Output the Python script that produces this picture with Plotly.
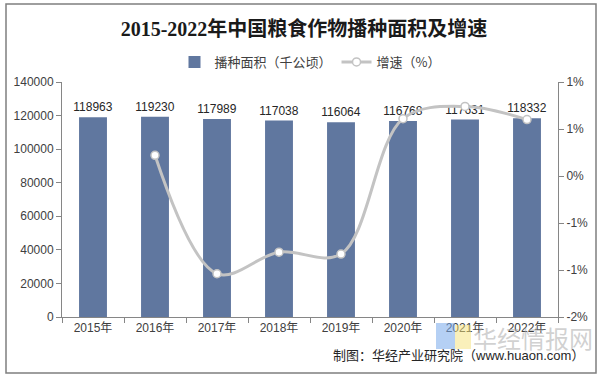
import plotly.graph_objects as go

years = ["2015年", "2016年", "2017年", "2018年", "2019年", "2020年", "2021年", "2022年"]
area = [118963, 119230, 117989, 117038, 116064, 116768, 117631, 118332]
growth_years = ["2016年", "2017年", "2018年", "2019年", "2020年", "2021年", "2022年"]
growth = [0.22, -1.04, -0.81, -0.83, 0.61, 0.74, 0.60]
y2_tickvals = [-1.5, -1.0, -0.5, 0.0, 0.5, 1.0]
y2_ticktext = ["-2%", "-1%", "-1%", "0%", "1%", "1%"]

font_main = "Liberation Sans, Arial, Noto Sans CJK SC"

fig = go.Figure()
fig.add_trace(go.Bar(
    x=years, y=area, name="播种面积（千公顷）",
    marker=dict(color="#60779f", line=dict(width=0)),
    width=0.45,
    text=[str(v) for v in area], textposition="outside", constraintext="none",
    textfont=dict(size=12, color="#262626", family=font_main),
    cliponaxis=False,
))
fig.add_trace(go.Scatter(
    x=growth_years, y=growth, name="增速（%）", yaxis="y2",
    mode="lines+markers",
    line=dict(color="#c3c3c3", width=3, shape="spline", smoothing=1),
    marker=dict(size=8, color="white", line=dict(color="#c3c3c3", width=1.5)),
    cliponaxis=False,
))

fig.update_layout(
    width=608, height=383,
    margin=dict(l=62, r=50, t=82, b=66, autoexpand=False),
    paper_bgcolor="white", plot_bgcolor="white",
    font=dict(family=font_main, size=12, color="#404040"),
    title=dict(
        text="<b>2015-2022年中国粮食作物播种面积及增速</b>",
        x=0.5, xanchor="center", y=1 - 29 / 383, yanchor="middle",
        font=dict(family="Liberation Serif, Noto Sans CJK SC", size=20, color="#1a1a1a"),
    ),
    legend=dict(
        orientation="h", x=0.5, xanchor="center",
        yref="container", y=1 - 62 / 383, yanchor="middle",
        font=dict(size=13, color="#404040", family="Noto Sans CJK SC"),
        itemwidth=30, traceorder="normal", bgcolor="rgba(0,0,0,0)",
    ),
    showlegend=True,
    xaxis=dict(
        type="category", showline=True, linecolor="#868686", linewidth=1,
        ticks="outside", tickson="boundaries", ticklen=5, tickcolor="#868686",
        tickfont=dict(size=12, color="#404040", family="Liberation Sans, Noto Sans CJK SC"),
        showgrid=False, automargin=False,
    ),
    yaxis=dict(
        range=[0, 140000], dtick=20000, tickformat="d", showline=True, linecolor="#868686",
        ticks="outside", ticklen=5, tickcolor="#868686", showgrid=False,
        tickfont=dict(size=12, color="#404040"), zeroline=False, automargin=False,
    ),
    yaxis2=dict(
        range=[-1.5, 1.0], overlaying="y", side="right",
        tickvals=y2_tickvals, ticktext=y2_ticktext,
        showline=True, linecolor="#868686", ticks="outside", ticklen=5,
        tickcolor="#868686", showgrid=False, zeroline=False,
        tickfont=dict(size=12, color="#404040"), automargin=False,
    ),
)

# outer border
fig.add_shape(type="rect", xref="paper", yref="paper",
              x0=(6 - 62) / 496, x1=(596 - 62) / 496,
              y0=(317 - 373) / 235, y1=(317 - 4) / 235,
              line=dict(color="#7f7f7f", width=1.5), fillcolor="rgba(0,0,0,0)", layer="below")

# watermark logo squares
fig.add_shape(type="rect", xref="paper", yref="paper",
              x0=(436 - 62) / 496, x1=(455 - 62) / 496,
              y0=(317 - 349) / 235, y1=(317 - 323) / 235,
              line=dict(width=0), fillcolor="rgba(120,170,235,0.55)", layer="above")
fig.add_shape(type="rect", xref="paper", yref="paper",
              x0=(455 - 62) / 496, x1=(471 - 62) / 496,
              y0=(317 - 349) / 235, y1=(317 - 325) / 235,
              line=dict(width=0), fillcolor="rgba(245,225,120,0.5)", layer="above")

fig.add_annotation(text="华经情报网", xref="paper", yref="paper",
                   x=(533 - 62) / 496, y=(317 - 337) / 235, xanchor="center", yanchor="middle",
                   showarrow=False,
                   font=dict(size=24, color="rgba(170,170,170,0.55)", family="Noto Sans CJK SC"))
fig.add_annotation(text="制图：华经产业研究院（www.huaon.com）", xref="paper", yref="paper",
                   x=(586 - 62) / 496, y=(317 - 355) / 235, xanchor="right", yanchor="middle",
                   showarrow=False,
                   font=dict(size=13, color="#262626", family="Liberation Sans, Noto Sans CJK SC"))

fig.write_html("out.html", config={"displayModeBar": False},
               post_script="document.body.style.margin='0';")
